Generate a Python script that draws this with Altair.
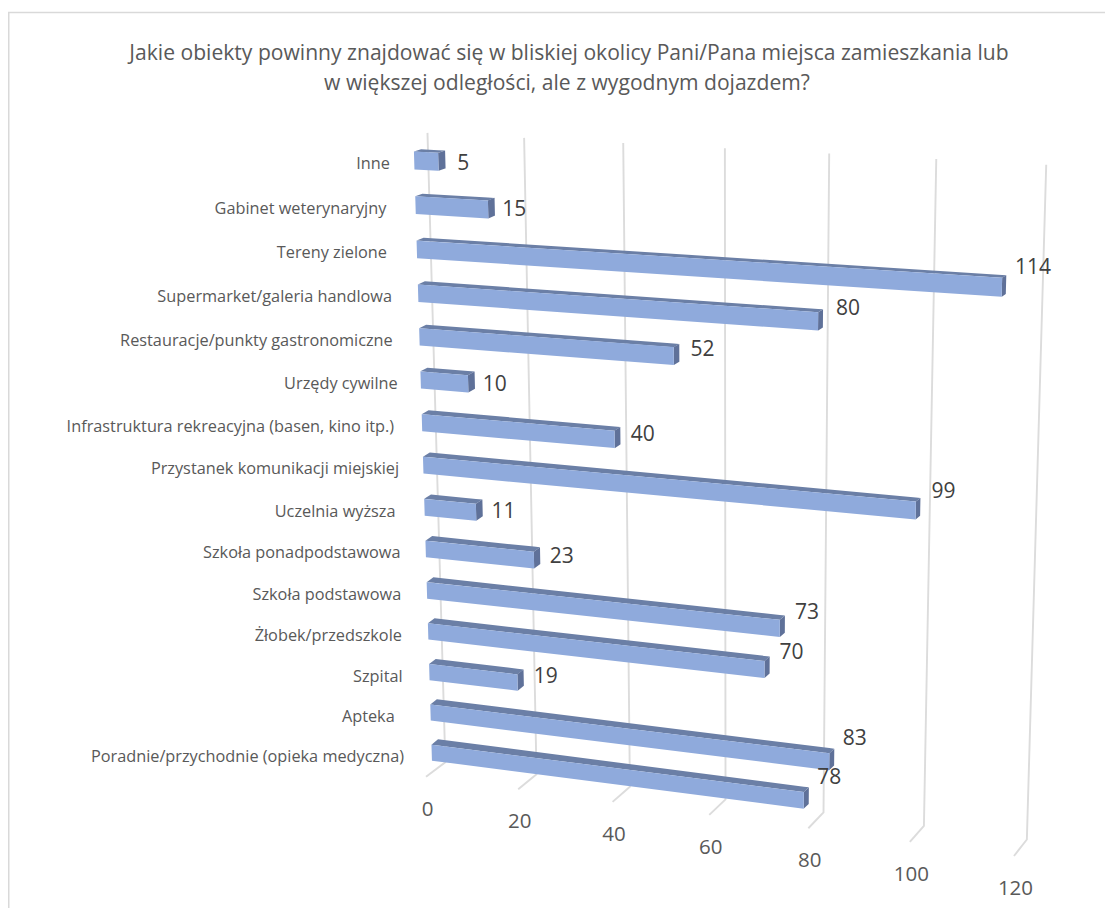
import numpy as np
import pandas as pd
import altair as alt

title_lines = [
    "Jakie obiekty powinny znajdować się w bliskiej okolicy Pani/Pana miejsca zamieszkania lub",
    "w większej odległości, ale z wygodnym dojazdem?",
]
categories = [
    "Poradnie/przychodnie (opieka medyczna)",
    "Apteka",
    "Szpital",
    "Żłobek/przedszkole",
    "Szkoła podstawowa",
    "Szkoła ponadpodstawowa",
    "Uczelnia wyższa",
    "Przystanek komunikacji miejskiej",
    "Infrastruktura rekreacyjna (basen, kino itp.)",
    "Urzędy cywilne",
    "Restauracje/punkty gastronomiczne",
    "Supermarket/galeria handlowa",
    "Tereny zielone",
    "Gabinet weterynaryjny",
    "Inne",
]
trailing_spaces = [0, 2, 0, 0, 0, 0, 1, 0, 1, 0, 1, 1, 2, 2, 1]
values = [78, 83, 19, 70, 73, 23, 11, 99, 40, 10, 52, 80, 114, 15, 5]
ticks = [0, 20, 40, 60, 80, 100, 120]

W, H = 1097, 900
OX, OY = 8, 8
BAR_H = 0.4
SPACE = 4.3


def fit(pts):
    A = []
    for u, v, x, y in pts:
        A.append([u, v, 1, 0, 0, 0, -x * u, -x * v, -x])
        A.append([0, 0, 0, u, v, 1, -y * u, -y * v, -y])
    return np.linalg.svd(np.array(A, float))[2][-1].reshape(3, 3)


def proj(M, u, v):
    p = M @ np.array([u, v, 1.0])
    return p[0] / p[2], p[1] / p[2]


front = fit([
    (0, 14, 414.3, 152), (5, 14, 438, 153.5), (0, 13, 415.5, 197), (15, 13, 488, 200.7),
    (0, 12, 417, 240), (114, 12, 1002, 278), (0, 1, 430.3, 705), (83, 1, 829, 753),
    (0, 0, 431.7, 745), (78, 0, 804, 792),
    (5, 14 - BAR_H, 438, 170), (15, 13 - BAR_H, 488, 218), (114, 12 - BAR_H, 1002, 296.7),
    (83, 1 - BAR_H, 829, 770), (78, 0 - BAR_H, 804, 809), (0, 14 - BAR_H, 414.3, 169),
    (0, 0 - BAR_H, 431.7, 760),
])
back = fit([
    (0, 14, 420, 149), (5, 14, 446, 151), (0, 13, 421.7, 193), (15, 13, 495, 198),
    (114, 12, 1006, 275), (83, 1, 834, 749), (0, 0, 438, 739), (78, 0, 809, 787.7),
    (5, 14 - BAR_H, 446, 168), (15, 13 - BAR_H, 495, 216.7), (114, 12 - BAR_H, 1006, 294),
    (83, 1 - BAR_H, 834, 765), (78, 0 - BAR_H, 809, 804),
])
wall = fit([
    (0, 1, 427.5, 133), (20, 1, 524, 138), (40, 1, 623, 143), (80, 1, 830, 153),
    (100, 1, 936, 159), (120, 1, 1046, 165),
    (0, 0, 445, 762), (20, 0, 537, 774), (40, 0, 630, 787), (80, 0, 823, 813),
    (100, 0, 924, 826), (120, 0, 1027, 839),
])
foot = fit([
    (0, 0, 445, 762), (20, 0, 537, 774), (40, 0, 630, 787), (80, 0, 823, 813),
    (100, 0, 924, 826), (120, 0, 1027, 839),
    (0, 1, 426, 777), (20, 1, 518, 789), (40, 1, 613, 802), (80, 1, 808, 828),
    (100, 1, 910, 842), (120, 1, 1014, 856),
])
label_fit = fit([
    (78, 0, 832, 778), (83, 1, 849, 737), (19, 2, 545, 677), (70, 3, 793, 651),
    (73, 4, 808, 611), (23, 5, 562, 555), (11, 6, 505, 511), (99, 7, 943, 488),
    (40, 8, 642, 430), (10, 9, 497, 384), (52, 10, 701, 347), (80, 11, 846, 309),
    (114, 12, 1036, 270), (15, 13, 516, 208), (5, 14, 460, 163),
])

face_rows = []


def add_face(kind, fid, poly):
    poly = np.array(poly)
    xs = sorted(set(np.round(poly[:, 0], 3)))
    n = len(poly)
    for x in xs:
        ys = []
        for i in range(n):
            (x0, y0), (x1, y1) = poly[i], poly[(i + 1) % n]
            lo, hi = min(x0, x1), max(x0, x1)
            if lo - 1e-2 <= x <= hi + 1e-2:
                if abs(x1 - x0) < 1e-6:
                    ys += [y0, y1]
                else:
                    ys.append(y0 + (y1 - y0) * (x - x0) / (x1 - x0))
        face_rows.append({"px": float(x), "py": float(min(ys)), "py2": float(max(ys)), "id": fid, "kind": kind})


for r, (cat, val) in enumerate(zip(categories, values)):
    ftl, ftr = proj(front, 0, r), proj(front, val, r)
    fbl, fbr = proj(front, 0, r - BAR_H), proj(front, val, r - BAR_H)
    btl, btr = proj(back, 0, r), proj(back, val, r)
    bbr = proj(back, val, r - BAR_H)
    add_face("top", f"t{r}", [ftl, ftr, btr, btl])
    add_face("side", f"s{r}", [ftr, btr, bbr, fbr])
    add_face("front", f"f{r}", [ftl, ftr, fbr, fbl])
faces = pd.DataFrame(face_rows)

grid_rows = []
tick_rows = []
for t in ticks:
    top, bot = proj(wall, t, 1), proj(wall, t, 0)
    end = proj(foot, t, 1)
    for k, p in enumerate([top, bot, end]):
        grid_rows.append({"px": p[0], "py": p[1], "id": t, "k": k})
    tick_rows.append({"px": end[0] + 1.5, "py": end[1] + 33, "t": str(t)})
grid = pd.DataFrame(grid_rows)
tick_df = pd.DataFrame(tick_rows)

cat_df = pd.DataFrame([
    {"px": 404 - 0.7 * r - SPACE * s, "py": proj(front, 0, r)[1] + 12.7, "t": c}
    for r, (c, s) in enumerate(zip(categories, trailing_spaces))
])
val_df = pd.DataFrame([
    {"px": proj(label_fit, v, r)[0], "py": proj(label_fit, v, r)[1] + 1.5, "t": str(v)}
    for r, v in enumerate(values)
])
title_df = pd.DataFrame({"px": [569, 567], "py": [53.5, 83.5], "t": title_lines})
border_df = pd.DataFrame({"px": [8.75, 8.75, OX + W], "py": [OY + H, 12.5, 12.5], "k": [0, 1, 2]})

X = alt.X("px:Q", scale=alt.Scale(domain=[OX, OX + W], range=[0, W], padding=0, nice=False, zero=False), axis=None)
Y = alt.Y("py:Q", scale=alt.Scale(domain=[OY, OY + H], range=[0, H], padding=0, nice=False, zero=False), axis=None)
FONT = "Open Sans"

border = alt.Chart(border_df).mark_line(color="#d9d9d9", strokeWidth=1.5).encode(X, Y, order="k:Q")
grid_l = alt.Chart(grid).mark_line(color="#dcdcdc", strokeWidth=1.9).encode(X, Y, detail="id:N", order="k:Q")
face_l = alt.Chart(faces).mark_area(opacity=1, orient="vertical").encode(
    X, Y, alt.Y2("py2"), detail="id:N",
    color=alt.Color("kind:N", legend=None, scale=alt.Scale(
        domain=["front", "top", "side"], range=["#8faadc", "#6b7fa6", "#5f7199"])),
)


def text(df, size, color, align="center"):
    return alt.Chart(df).mark_text(
        font=FONT, fontSize=size, color=color, align=align, baseline="middle"
    ).encode(X, Y, text="t:N")


chart = alt.layer(
    border, grid_l, face_l,
    text(tick_df, 20.5, "#595959"),
    text(cat_df, 16.3, "#595959", "right"),
    text(val_df, 21, "#404040"),
    text(title_df, 21.1, "#595959"),
).properties(
    width=W, height=H, padding=0, background="white",
    autosize=alt.AutoSizeParams(type="none"),
).configure_view(stroke=None)

chart.save("out.html", embed_options={"renderer": "svg", "actions": False})
